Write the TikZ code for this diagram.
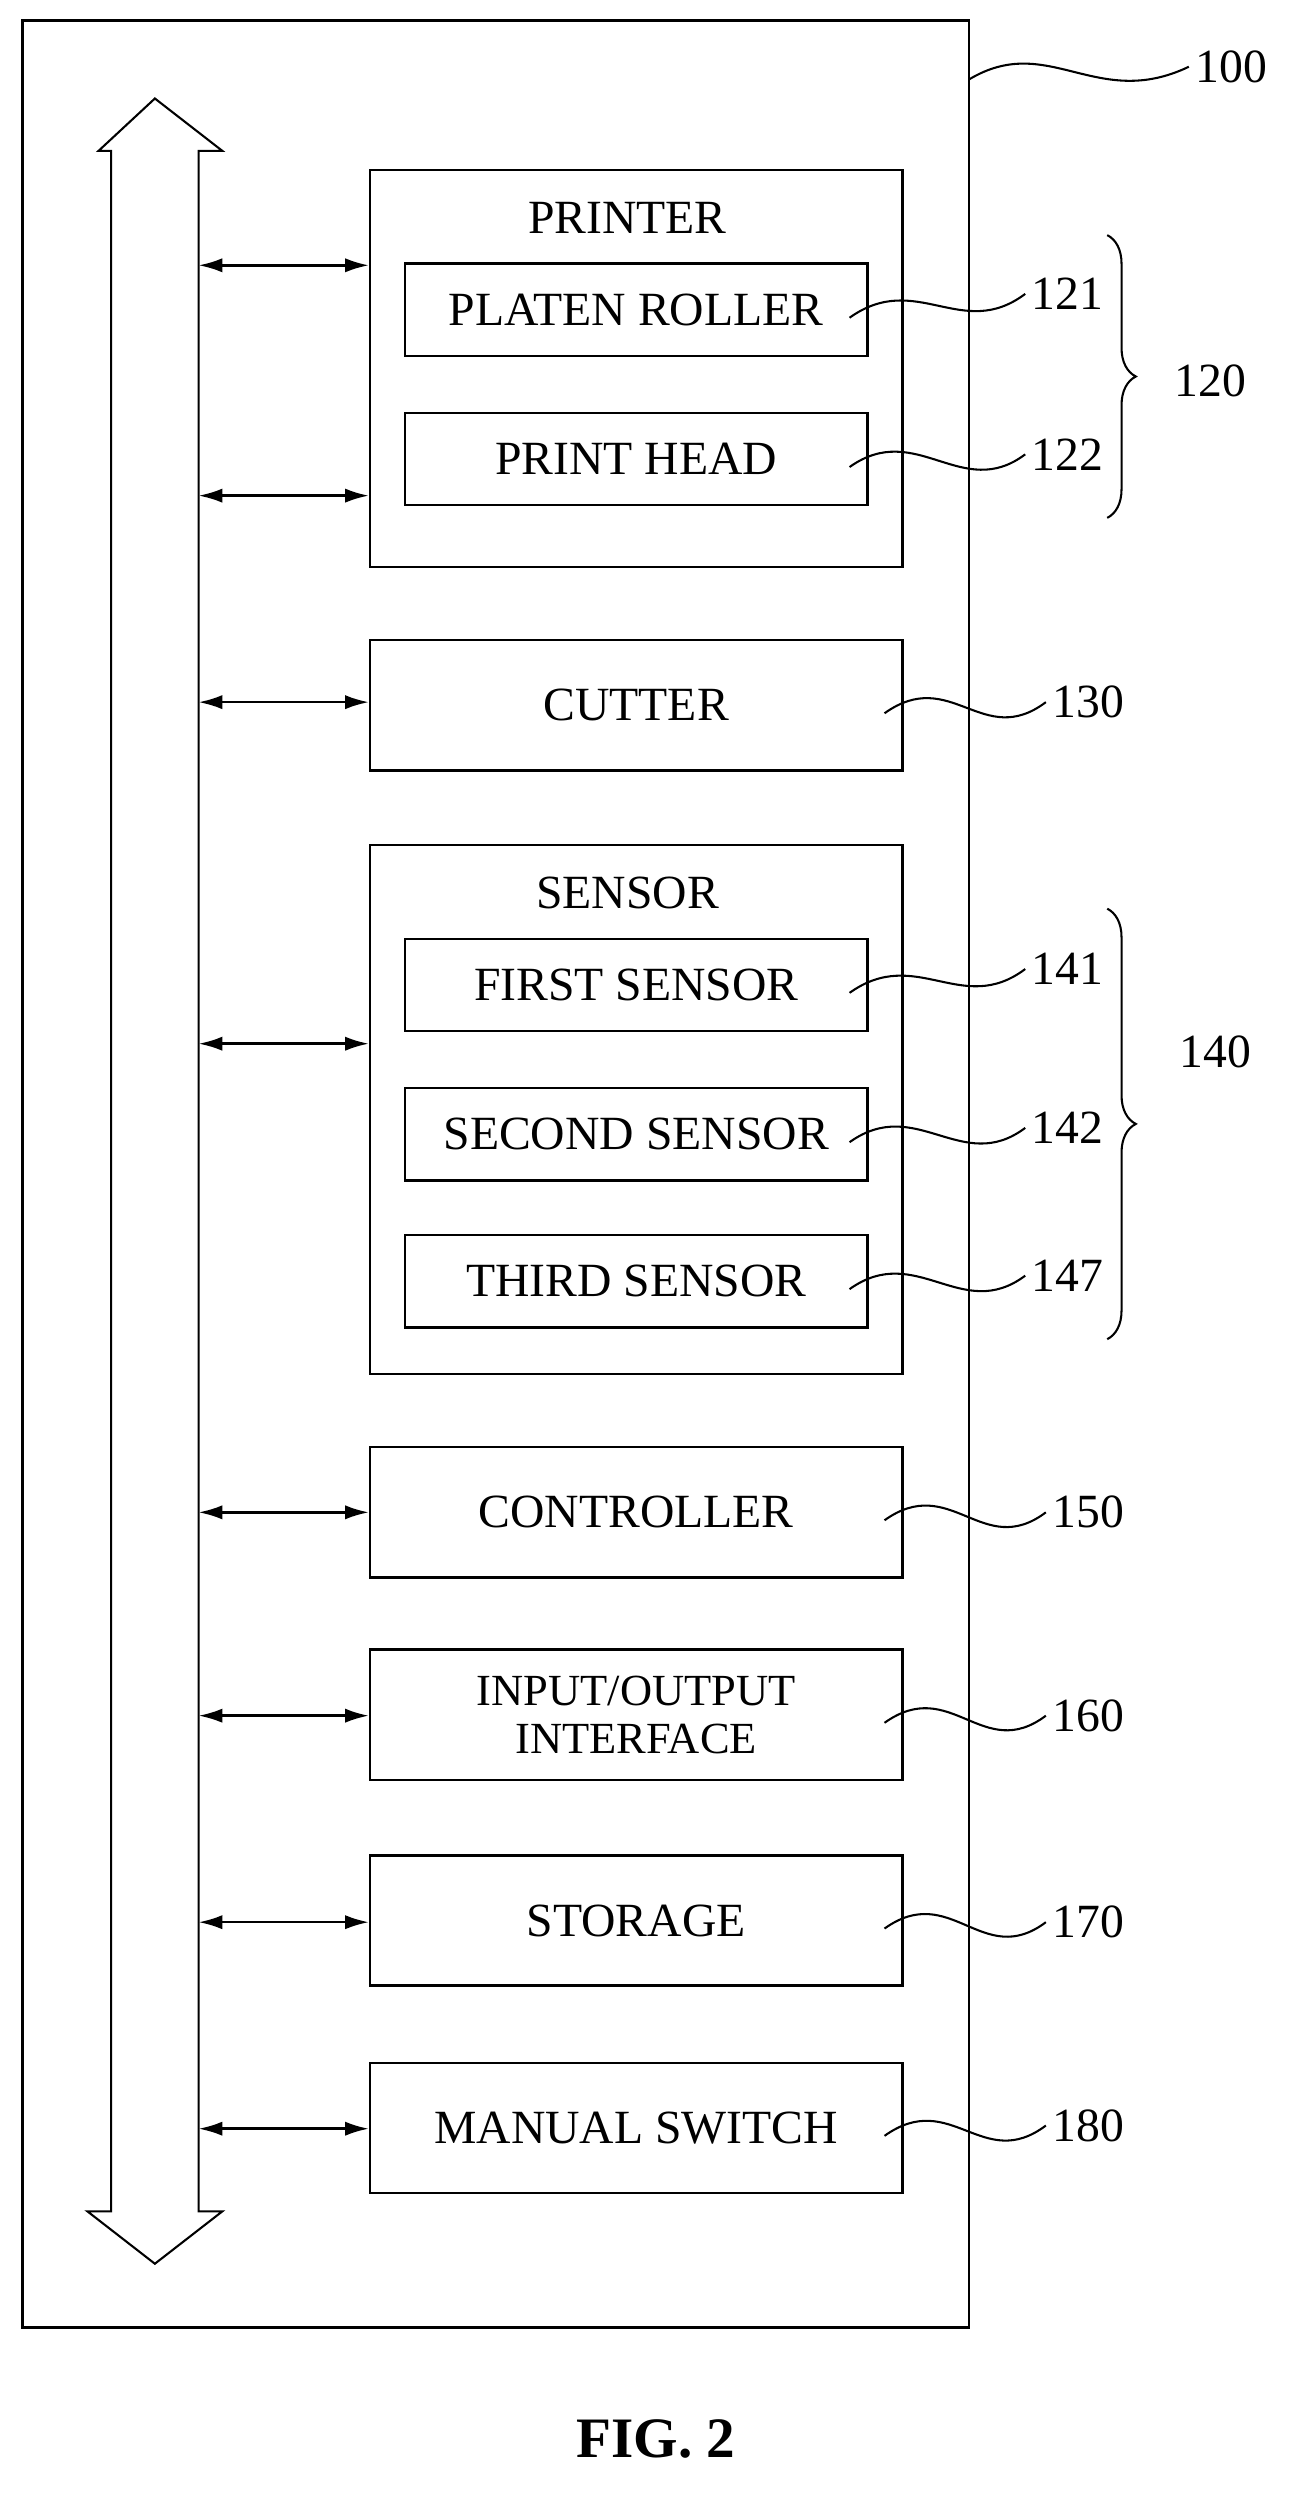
\documentclass[tikz,border=0pt]{standalone}
\usepackage{fontspec}
\setmainfont{Liberation Serif}
\usetikzlibrary{arrows.meta,calc,decorations.pathreplacing}
\begin{document}
\begin{tikzpicture}[x=1pt,y=-1pt,line width=1.6pt,>={Latex[length=15pt,width=9pt]},
    blk/.style={draw,minimum width=335pt,minimum height=82pt,inner sep=0pt,font=\fontsize{30}{34}\selectfont},
    sub/.style={draw,minimum width=291pt,minimum height=58pt,inner sep=0pt,font=\fontsize{30}{34}\selectfont},
    ttl/.style={font=\fontsize{30}{34}\selectfont},
    num/.style={font=\fontsize{30}{34}\selectfont},
    sq/.style={line width=1.3pt}]

      \useasboundingbox (0,0) rectangle (826,1575);

      % frame
      \node [draw,minimum width=596pt,minimum height=1452pt,inner sep=0pt] (frame) at (312,739) {};

      % bus
      \draw [line width=1.3pt] (70,95) -- (62,95) -- (97.5,62) -- (140,95) -- (125,95)
        -- (125,1392) -- (140,1392) -- (97.5,1425) -- (55,1392) -- (70,1392) -- cycle;

      % printer
      \node [draw,minimum width=335pt,minimum height=250pt,inner sep=0pt] (printer) at (400.5,232) {};
      \node [ttl] (printerT) at (395,137) {PRINTER};
      \node [sub] (platen) at (400.5,195) {PLATEN ROLLER};
      \node [sub] (head) at (400.5,289) {PRINT HEAD};

      \node [blk] (cutter) at (400.5,444) {CUTTER};

      % sensor
      \node [draw,minimum width=335pt,minimum height=333pt,inner sep=0pt] (sensor) at (400.5,698.5) {};
      \node [ttl] (sensorT) at (395,562) {SENSOR};
      \node [sub] (first) at (400.5,620) {FIRST SENSOR};
      \node [sub] (second) at (400.5,714) {SECOND SENSOR};
      \node [sub] (third) at (400.5,806.5) {THIRD SENSOR};

      \node [blk] (ctrl) at (400.5,952) {CONTROLLER};
      \node [blk,align=center,font=\fontsize{28}{30}\selectfont] (io) at (400.5,1079.5) {INPUT/OUTPUT\\INTERFACE};
      \node [blk] (storage) at (400.5,1209) {STORAGE};
      \node [blk] (switch) at (400.5,1339.5) {MANUAL SWITCH};

      % bus arrows
      \foreach \n/\y in {printer/167,printer/312,cutter/442,sensor/657,ctrl/952,io/1080,storage/1210,switch/1340}
        \draw [<->] (125,\y) -- (\n.west |- 0,\y);

      % reference numbers
      \node [num] (n100) at (775,42) {100};
      \draw [sq] (610,50) .. controls (660,20) and (690,70) .. (n100.west);
      \foreach \n/\lab/\y/\x in {platen/121/185/672,head/122/286/672,cutter/130/442/685,first/141/610/672,
          second/142/710/672,third/147/803/672,ctrl/150/952/685,io/160/1080/685,storage/170/1210/685,switch/180/1338/685}
      {
        \node [num] (n\lab) at (\x,\y) {\lab};
        \draw [sq] ($(\n.east)+(-12,5)$) .. controls ($(\n.east)+(30,-25)$) and ($(n\lab.west)+(-40,30)$) .. (n\lab.west);
      }

      \draw [decorate,decoration={brace,amplitude=18pt},line width=1.3pt] (697,148) -- (697,326);
      \node [num] (n120) at (762,240) {120};
      \draw [decorate,decoration={brace,amplitude=18pt},line width=1.3pt] (697,572) -- (697,843);
      \node [num] (n140) at (765,662) {140};

      \node [font=\fontsize{36}{40}\selectfont\bfseries] (fig) at (413,1535) {FIG. 2};
\end{tikzpicture}
\end{document}
